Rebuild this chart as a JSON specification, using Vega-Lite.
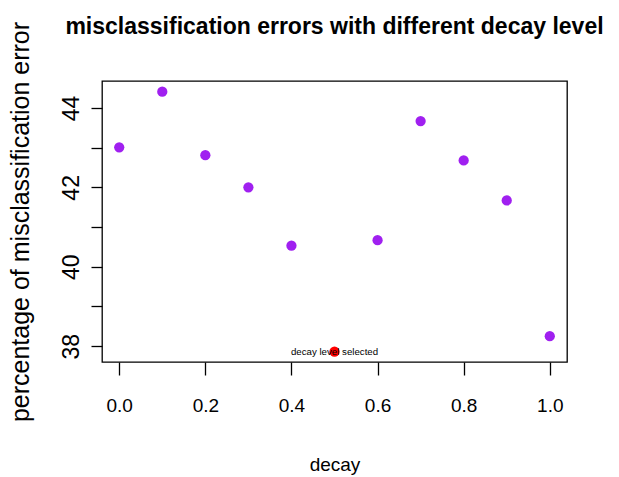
{
  "$schema": "https://vega.github.io/schema/vega-lite/v6.json",
  "width": 465,
  "height": 281,
  "autosize": "none",
  "padding": {"left": 102, "top": 81, "right": 52, "bottom": 115},
  "background": "white",
  "title": {
    "text": "misclassification errors with different decay level",
    "font": "Liberation Sans",
    "fontSize": 23,
    "fontWeight": "bold",
    "color": "black",
    "anchor": "middle",
    "frame": "group",
    "baseline": "bottom",
    "offset": -41
  },
  "config": {
    "view": {"stroke": "black", "strokeWidth": 1.3},
    "axis": {
      "grid": false,
      "domain": false,
      "tickColor": "black",
      "tickWidth": 1.3,
      "labelFont": "Liberation Sans",
      "labelColor": "black",
      "titleFont": "Liberation Sans",
      "titleFontWeight": "normal",
      "titleColor": "black"
    }
  },
  "data": {
    "values": [
      {"decay": 0.0, "error": 43.01, "status": "other"},
      {"decay": 0.1, "error": 44.41, "status": "other"},
      {"decay": 0.2, "error": 42.81, "status": "other"},
      {"decay": 0.3, "error": 42.0, "status": "other"},
      {"decay": 0.4, "error": 40.53, "status": "other"},
      {"decay": 0.5, "error": 37.86, "status": "selected"},
      {"decay": 0.6, "error": 40.67, "status": "other"},
      {"decay": 0.7, "error": 43.67, "status": "other"},
      {"decay": 0.8, "error": 42.68, "status": "other"},
      {"decay": 0.9, "error": 41.67, "status": "other"},
      {"decay": 1.0, "error": 38.25, "status": "other"}
    ]
  },
  "encoding": {
    "x": {
      "field": "decay",
      "type": "quantitative",
      "scale": {"domain": [-0.04, 1.04], "nice": false, "zero": false},
      "axis": {
        "title": "decay",
        "values": [0, 0.2, 0.4, 0.6, 0.8, 1.0],
        "format": ".1f",
        "labelFontSize": 19,
        "titleFontSize": 19,
        "tickSize": 13,
        "labelPadding": 21,
        "titlePadding": 40
      }
    },
    "y": {
      "field": "error",
      "type": "quantitative",
      "scale": {"domain": [37.6, 44.68], "nice": false, "zero": false},
      "axis": {
        "title": "percentage of misclassification error",
        "values": [38, 39, 40, 41, 42, 43, 44],
        "labelExpr": "datum.value % 2 == 0 ? datum.label : ''",
        "labelAngle": -90,
        "labelAlign": "center",
        "labelBaseline": "bottom",
        "labelFontSize": 23,
        "titleFontSize": 25,
        "tickSize": 11,
        "labelPadding": 8,
        "titlePadding": 27
      }
    }
  },
  "layer": [
    {
      "mark": {"type": "point", "shape": "circle", "filled": true, "size": 105, "opacity": 1},
      "encoding": {
        "color": {
          "field": "status",
          "type": "nominal",
          "scale": {"domain": ["other", "selected"], "range": ["#A020F0", "#FF0000"]},
          "legend": null
        }
      }
    },
    {
      "transform": [{"filter": "datum.status == 'selected'"}],
      "mark": {"type": "text", "font": "Liberation Sans", "fontSize": 9.7, "color": "black", "align": "center", "baseline": "middle"},
      "encoding": {"text": {"value": "decay level selected"}}
    }
  ]
}
